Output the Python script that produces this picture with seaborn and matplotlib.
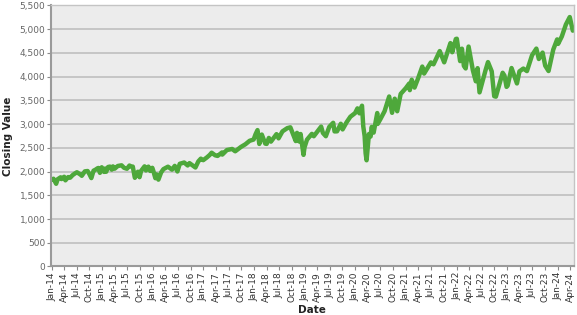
import matplotlib
matplotlib.use("Agg")
import matplotlib.pyplot as plt
import matplotlib.dates as mdates
from matplotlib.ticker import MultipleLocator, FuncFormatter
import seaborn as sns
import pandas as pd

dates = [
    "2014-01-02", "2014-01-15", "2014-02-03", "2014-02-14", "2014-03-07", "2014-03-14", "2014-04-02", "2014-04-11",
    "2014-05-01", "2014-05-15", "2014-06-02", "2014-06-20", "2014-07-03", "2014-07-31", "2014-08-07", "2014-08-29",
    "2014-09-18", "2014-10-01", "2014-10-15", "2014-10-31", "2014-11-14", "2014-11-28", "2014-12-05", "2014-12-16",
    "2014-12-29",
    "2015-01-05", "2015-01-15", "2015-01-22", "2015-01-30", "2015-02-13", "2015-02-27", "2015-03-11", "2015-03-20",
    "2015-04-01", "2015-04-24", "2015-05-21", "2015-06-08", "2015-06-29", "2015-07-17", "2015-07-31", "2015-08-10",
    "2015-08-25", "2015-09-16", "2015-09-28", "2015-10-09", "2015-11-03", "2015-11-13", "2015-12-01", "2015-12-14",
    "2015-12-29",
    "2016-01-05", "2016-01-20", "2016-01-29", "2016-02-11", "2016-03-01", "2016-03-18", "2016-04-20", "2016-05-19",
    "2016-06-08", "2016-06-27", "2016-07-14", "2016-08-15", "2016-09-09", "2016-09-22", "2016-10-13", "2016-11-04",
    "2016-11-25", "2016-12-13", "2016-12-30",
    "2017-01-26", "2017-02-15", "2017-03-01", "2017-03-27", "2017-04-13", "2017-05-15", "2017-05-17", "2017-06-19",
    "2017-07-27", "2017-08-18", "2017-09-29", "2017-10-31", "2017-11-30", "2017-12-29",
    "2018-01-12", "2018-01-26", "2018-02-08", "2018-02-26", "2018-03-23", "2018-04-02", "2018-04-18", "2018-05-03",
    "2018-06-12", "2018-06-27", "2018-07-25", "2018-08-29", "2018-09-20", "2018-10-10", "2018-10-29", "2018-11-07",
    "2018-11-23", "2018-12-03", "2018-12-24", "2018-12-31",
    "2019-01-18", "2019-02-22", "2019-03-08", "2019-04-30", "2019-05-13", "2019-06-03", "2019-06-28", "2019-07-26",
    "2019-08-05", "2019-08-23", "2019-09-19", "2019-10-02", "2019-10-31", "2019-11-27", "2019-12-31",
    "2020-01-17", "2020-01-31", "2020-02-19", "2020-02-28", "2020-03-09", "2020-03-16", "2020-03-23", "2020-04-09",
    "2020-04-21", "2020-04-29", "2020-05-13", "2020-06-08", "2020-06-11", "2020-06-30", "2020-07-31", "2020-09-02",
    "2020-09-23", "2020-10-12", "2020-10-30", "2020-11-24", "2020-12-31",
    "2021-01-25", "2021-01-29", "2021-02-12", "2021-03-04", "2021-03-31", "2021-04-29", "2021-05-12", "2021-06-30",
    "2021-07-19", "2021-08-31", "2021-09-02", "2021-10-04", "2021-11-18", "2021-11-30", "2021-12-01", "2021-12-27",
    "2022-01-03", "2022-01-27", "2022-02-09", "2022-02-23", "2022-03-08", "2022-03-29", "2022-04-29", "2022-05-20",
    "2022-06-02", "2022-06-16", "2022-07-29", "2022-08-16", "2022-09-12", "2022-09-30", "2022-10-12", "2022-11-30",
    "2022-12-13", "2022-12-28",
    "2023-01-05", "2023-02-02", "2023-03-13", "2023-03-31", "2023-04-28", "2023-05-24", "2023-06-30", "2023-07-31",
    "2023-08-18", "2023-09-14", "2023-10-03", "2023-10-27", "2023-11-30", "2023-12-28",
    "2024-01-04", "2024-01-31", "2024-02-29", "2024-03-28", "2024-04-19",
]
closing = [
    1832, 1848, 1742, 1838, 1878, 1841, 1890, 1815,
    1883, 1870, 1925, 1962, 1985, 1931, 1910, 2003,
    2011, 1946, 1862, 2018, 2039, 2067, 2075, 1972,
    2090,
    2020, 1992, 2063, 1995, 2096, 2104, 2040, 2108,
    2059, 2117, 2131, 2079, 2058, 2126, 2104, 2104,
    1868, 1996, 1881, 2014, 2109, 2023, 2103, 2012,
    2078,
    2016, 1859, 1940, 1829, 1978, 2050, 2102, 2040,
    2119, 2001, 2163, 2190, 2128, 2177, 2132, 2085,
    2213, 2271, 2239,
    2298, 2349, 2396, 2341, 2329, 2402, 2357, 2453,
    2475, 2426, 2519, 2575, 2647, 2674,
    2786, 2873, 2581, 2779, 2588, 2582, 2708, 2630,
    2787, 2699, 2846, 2914, 2931, 2785, 2641, 2814,
    2633, 2790, 2351, 2507,
    2671, 2793, 2743, 2946, 2812, 2744, 2942, 3026,
    2845, 2847, 3006, 2887, 3038, 3154, 3231,
    3330, 3226, 3386, 2954, 2747, 2386, 2237, 2790,
    2737, 2940, 2820, 3232, 3002, 3100, 3271, 3580,
    3237, 3534, 3270, 3635, 3756,
    3855, 3714, 3934, 3768, 3973, 4211, 4063, 4298,
    4258, 4523, 4537, 4300, 4705, 4567, 4513, 4791,
    4797, 4326, 4587, 4225, 4171, 4632, 4132, 3901,
    4177, 3667, 4130, 4305, 4110, 3586, 3577, 4080,
    4020, 3783,
    3808, 4180, 3855, 4109, 4169, 4115, 4450, 4589,
    4370, 4505, 4229, 4117, 4568, 4783,
    4688, 4846, 5096, 5254, 4967,
]

df = pd.DataFrame({"Date": pd.to_datetime(dates), "Closing Value": closing})

sns.set_theme(style="white")
plt.rcParams["font.family"] = ["DejaVu Sans"]

fig = plt.figure(figsize=(5.77, 3.15), dpi=100)
ax = fig.add_axes([0.0884, 0.154, 0.906, 0.829])
ax.set_facecolor("#ececec")

sns.lineplot(data=df, x="Date", y="Closing Value", ax=ax, color="#4ea83b", linewidth=3.2)

ax.set_ylim(0, 5500)
ax.yaxis.set_major_locator(MultipleLocator(500))
ax.yaxis.set_major_formatter(FuncFormatter(lambda v, p: f"{int(v):,}"))
ax.grid(axis="y", color="#bfbfbf", linewidth=1.2)
ax.grid(axis="x", visible=False)
ax.set_axisbelow(True)

ax.set_xlim(pd.Timestamp("2013-12-28"), pd.Timestamp("2024-04-26"))
ax.xaxis.set_major_locator(mdates.MonthLocator(bymonth=[1, 4, 7, 10]))
ax.xaxis.set_major_formatter(mdates.DateFormatter("%b-%y"))
for lab in ax.get_xticklabels():
    lab.set_rotation(90)

ax.tick_params(axis="both", labelsize=6.5, colors="#8a8a8a", length=3, width=0.8,
               direction="out", bottom=True, left=True, pad=1)
ax.tick_params(axis="x", labelcolor="#333333")
ax.tick_params(axis="y", labelcolor="#666666")

for side in ["left", "bottom"]:
    ax.spines[side].set_color("#9a9a9a")
    ax.spines[side].set_linewidth(1.5)
for side in ["top", "right"]:
    ax.spines[side].set_color("#c4c4c4")
    ax.spines[side].set_linewidth(1.0)

ax.set_xlabel("Date", fontsize=7.5, fontweight="bold", color="#222222", labelpad=2)
ax.set_ylabel("Closing Value", fontsize=7.5, fontweight="bold", color="#222222")
ax.yaxis.set_label_coords(-0.073, 0.5)

fig.savefig("out.png", dpi=100)
